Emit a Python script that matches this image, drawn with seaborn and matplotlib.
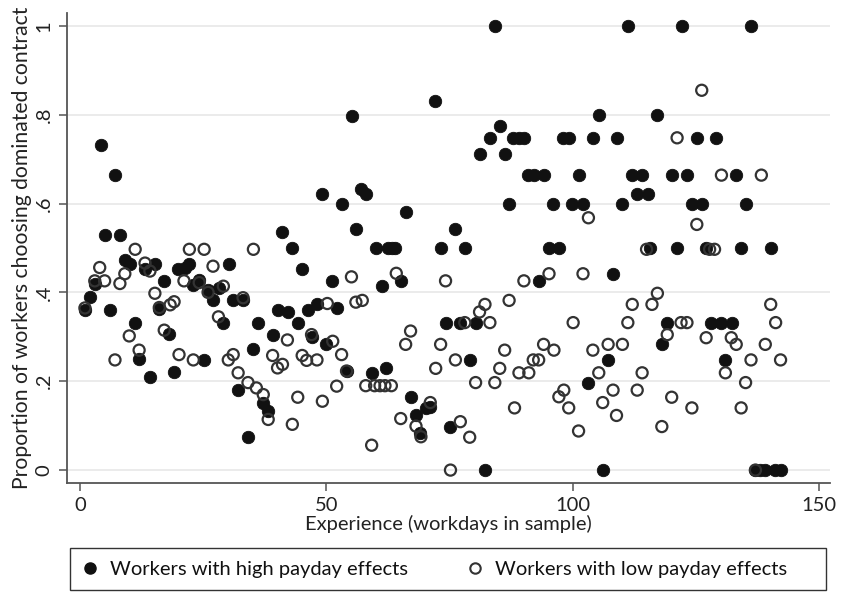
import matplotlib
matplotlib.use("Agg")
import matplotlib.pyplot as plt
from matplotlib.lines import Line2D
from matplotlib.patches import Rectangle
import numpy as np
import pandas as pd
import seaborn as sns

# Workers with high payday effects
high_days = [1.0, 2.0, 3.0, 4.2, 5.1, 6.1, 7.2, 8.1, 9.1, 10.1, 11.2, 12.0, 13.2, 14.2, 15.2,
             16.1, 17.1, 18.1, 19.1, 19.9, 21.3, 22.2, 23.0, 24.2, 25.2, 26.0, 27.0, 28.3, 29.1,
             30.3, 31.1, 32.1, 33.0, 34.1, 35.2, 36.2, 37.2, 38.2, 39.1, 40.2, 41.1, 42.3, 43.1,
             44.2, 45.1, 46.2, 47.0, 48.1, 49.2, 49.9, 51.2, 52.1, 53.1, 54.1, 55.2, 56.1, 57.1,
             58.1, 59.2, 60.0, 61.2, 62.2, 62.5, 63.3, 64.0, 65.2, 66.1, 67.1, 68.2, 69.0, 70.2,
             71.0, 72.0, 73.2, 74.2, 75.2, 76.2, 77.1, 78.2, 79.1, 80.3, 81.1, 82.2, 83.2, 84.2,
             85.2, 86.2, 87.1, 87.9, 89.2, 90.1, 90.9, 92.1, 93.2, 94.2, 95.1, 96.1, 97.2, 98.0,
             99.2, 99.9, 101.2, 102.1, 103.2, 104.1, 105.3, 106.1, 107.2, 108.1, 109.1, 110.1,
             111.2, 112.0, 113.1, 114.0, 115.3, 115.8, 117.2, 118.1, 119.2, 120.1, 121.2, 122.2,
             123.2, 124.2, 125.2, 126.2, 127.1, 128.1, 129.1, 130.1, 131.0, 132.3, 133.2, 134.2,
             135.2, 136.2, 137.1, 138.1, 139.1, 140.2, 141.1, 142.3]
high_share = [0.36, 0.39, 0.42, 0.731, 0.53, 0.36, 0.665, 0.53, 0.472, 0.463, 0.331, 0.25, 0.452,
              0.21, 0.463, 0.363, 0.426, 0.306, 0.22, 0.452, 0.456, 0.463, 0.416, 0.427, 0.248,
              0.405, 0.383, 0.41, 0.331, 0.465, 0.383, 0.18, 0.384, 0.074, 0.272, 0.332, 0.152,
              0.133, 0.305, 0.36, 0.536, 0.356, 0.5, 0.331, 0.452, 0.36, 0.30, 0.373, 0.622,
              0.283, 0.426, 0.366, 0.598, 0.223, 0.797, 0.542, 0.632, 0.622, 0.219, 0.5, 0.414,
              0.23, 0.5, 0.5, 0.5, 0.426, 0.581, 0.165, 0.124, 0.084, 0.14, 0.142, 0.831, 0.5,
              0.332, 0.097, 0.542, 0.332, 0.5, 0.248, 0.332, 0.711, 0.0, 0.748, 1.0, 0.775, 0.711,
              0.598, 0.748, 0.748, 0.748, 0.664, 0.664, 0.426, 0.664, 0.5, 0.598, 0.5, 0.748,
              0.748, 0.598, 0.664, 0.598, 0.197, 0.748, 0.8, 0.0, 0.248, 0.442, 0.748, 0.598, 1.0,
              0.664, 0.622, 0.664, 0.622, 0.5, 0.8, 0.283, 0.332, 0.664, 0.5, 1.0, 0.664, 0.598,
              0.748, 0.598, 0.5, 0.332, 0.748, 0.332, 0.248, 0.332, 0.664, 0.5, 0.598, 1.0, 0.0,
              0.0, 0.0, 0.5, 0.0, 0.0]

# Workers with low payday effects
low_days = [1.0, 3.0, 4.0, 5.0, 7.1, 8.1, 9.1, 10.0, 11.2, 12.0, 13.2, 14.2, 15.2, 16.1, 17.1,
            18.3, 19.1, 20.1, 21.1, 22.2, 23.0, 24.2, 25.2, 26.0, 27.0, 28.1, 29.1, 30.1, 31.1,
            32.1, 33.1, 34.1, 35.2, 35.8, 37.2, 38.2, 39.1, 40.1, 41.1, 42.1, 43.1, 44.2, 45.1,
            46.0, 47.0, 48.1, 49.2, 50.2, 51.3, 52.1, 53.1, 54.1, 55.1, 56.0, 57.3, 58.0, 59.2,
            59.8, 60.9, 61.9, 63.2, 64.2, 65.1, 66.1, 67.1, 68.2, 69.2, 71.1, 72.2, 73.2, 74.2,
            75.2, 76.2, 77.2, 78.1, 79.1, 80.3, 81.1, 82.2, 83.2, 84.2, 85.2, 86.2, 87.1, 88.2,
            89.1, 90.1, 91.1, 92.0, 93.1, 94.1, 95.2, 96.2, 97.2, 98.2, 99.2, 100.1, 101.2,
            102.1, 103.2, 104.1, 105.3, 106.1, 107.2, 108.2, 108.9, 110.1, 111.2, 112.1, 113.1,
            114.1, 115.0, 116.1, 117.2, 118.1, 119.2, 120.1, 121.2, 122.0, 123.2, 124.2, 125.2,
            126.2, 127.1, 127.8, 128.8, 130.2, 131.0, 132.2, 133.2, 134.2, 135.1, 136.2, 137.1,
            138.3, 139.1, 140.2, 141.2, 142.2]
low_share = [0.365, 0.426, 0.456, 0.426, 0.248, 0.42, 0.442, 0.302, 0.497, 0.27, 0.466, 0.448,
             0.398, 0.366, 0.315, 0.372, 0.379, 0.26, 0.426, 0.497, 0.248, 0.422, 0.497, 0.40,
             0.459, 0.345, 0.414, 0.248, 0.26, 0.219, 0.388, 0.197, 0.497, 0.185, 0.17, 0.114,
             0.258, 0.23, 0.238, 0.293, 0.103, 0.164, 0.258, 0.247, 0.305, 0.248, 0.155, 0.375,
             0.29, 0.189, 0.26, 0.223, 0.435, 0.378, 0.382, 0.19, 0.056, 0.19, 0.19, 0.19, 0.19,
             0.443, 0.116, 0.283, 0.313, 0.099, 0.075, 0.152, 0.229, 0.283, 0.426, 0.0, 0.248,
             0.109, 0.332, 0.074, 0.197, 0.356, 0.373, 0.332, 0.197, 0.229, 0.27, 0.382, 0.14,
             0.219, 0.426, 0.219, 0.248, 0.248, 0.283, 0.442, 0.27, 0.165, 0.18, 0.14, 0.332,
             0.088, 0.442, 0.568, 0.27, 0.219, 0.152, 0.283, 0.18, 0.123, 0.283, 0.332, 0.373,
             0.18, 0.219, 0.497, 0.373, 0.398, 0.098, 0.305, 0.164, 0.748, 0.332, 0.332, 0.14,
             0.553, 0.855, 0.298, 0.497, 0.497, 0.664, 0.219, 0.298, 0.283, 0.14, 0.197, 0.248,
             0.0, 0.664, 0.283, 0.373, 0.332, 0.248]

x_ticks = [0, 50, 100, 150]
y_ticks = [0, 0.2, 0.4, 0.6, 0.8, 1.0]
y_tick_labels = ["0", ".2", ".4", ".6", ".8", "1"]
label_high = "Workers with high payday effects"
label_low = "Workers with low payday effects"

sns.set_theme(style="white")
plt.rcParams["font.family"] = ["Lato", "DejaVu Sans"]

high_df = pd.DataFrame({"day": high_days, "share": high_share})
low_df = pd.DataFrame({"day": low_days, "share": low_share})

fig = plt.figure(figsize=(8.41, 5.97), dpi=100)
ax = fig.add_axes([0.0793, 0.191, 0.908, 0.788])

for yv in y_ticks:
    ax.axhline(yv, color="#e8e8e8", lw=1.2, zorder=0)

sns.scatterplot(data=high_df, x="day", y="share", ax=ax, marker="o", s=80,
                color="#111111", edgecolor="#111111", linewidth=0.6, zorder=3, legend=False)
sns.scatterplot(data=low_df, x="day", y="share", ax=ax, marker="o", s=64,
                facecolor="none", edgecolor="#333333", linewidth=1.6, zorder=4, legend=False)

ax.set_xlim(-2.7, 152.3)
ax.set_ylim(-0.029, 1.03)
ax.set_xticks(x_ticks)
ax.set_xticklabels([str(v) for v in x_ticks])
ax.set_yticks(y_ticks)
ax.set_yticklabels(y_tick_labels, rotation=90, va="center")

for side in ["top", "right"]:
    ax.spines[side].set_visible(False)
for side in ["left", "bottom"]:
    ax.spines[side].set_color("#555555")
    ax.spines[side].set_linewidth(1.3)

ax.tick_params(axis="both", which="major", direction="out", length=6, width=1.1,
               color="#555555", labelsize=14.5, labelcolor="#222222", pad=4,
               bottom=True, left=True)

ax.set_xlabel("Experience (workdays in sample)", fontsize=14.5, color="#222222", labelpad=1)
ax.set_ylabel("Proportion of workers choosing dominated contract", fontsize=15.2,
              color="#222222", labelpad=3)

handles = [
    Line2D([], [], marker="o", linestyle="none", markersize=8, markerfacecolor="#111111",
           markeredgecolor="#111111", label=label_high),
    Line2D([], [], marker="o", linestyle="none", markersize=7.5, markerfacecolor="none",
           markeredgecolor="#333333", markeredgewidth=1.5, label=label_low),
]
leg = fig.legend(handles=handles, loc="center left", ncol=2,
                 bbox_to_anchor=(82 / 841, 0.0469), borderaxespad=0, borderpad=0,
                 frameon=False, fontsize=14.5, handletextpad=0.6, handlelength=0.8,
                 columnspacing=2.9)
for t in leg.get_texts():
    t.set_color("#111111")

# legend frame
fig.patches.append(Rectangle((70 / 841, 7 / 597), 756 / 841, 42 / 597,
                             transform=fig.transFigure, fill=False,
                             edgecolor="#333333", linewidth=1.0))

fig.savefig("out.png", dpi=100)
